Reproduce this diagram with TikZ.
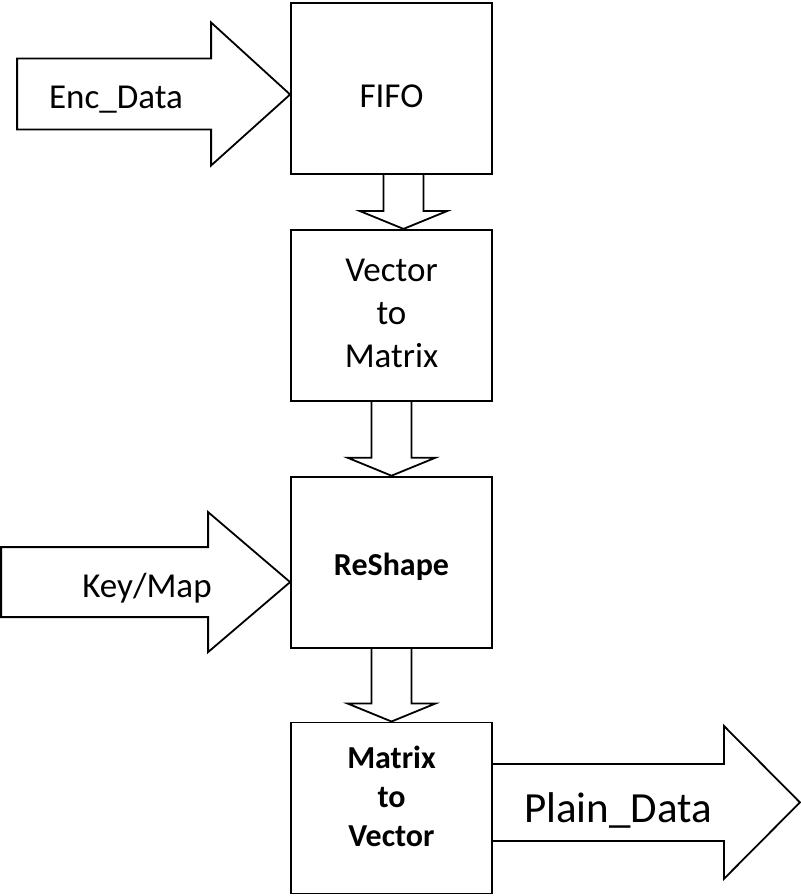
\documentclass[tikz,border=0pt]{standalone}
\usepackage{fontspec}
\setmainfont{Carlito}
\usetikzlibrary{positioning,calc}
\tikzset{blok/.style={draw,line width=1.8pt,minimum width=201pt,minimum height=171pt,align=center,inner sep=0pt,font=\fontsize{35}{43}\selectfont}, bblok/.style={blok,font=\fontsize{32}{39}\selectfont\bfseries}, fat/.style={draw,line width=1.8pt,line join=miter}, lbl/.style={inner sep=0pt,font=\fontsize{35}{42}\selectfont}}
% hollow arrow between two stacked boxes: #1 from, #2 to, #3 x offset
\newcommand\flowdown[3]{\draw[fat]($(#1.south)+(#3-20,0)$)|-($(#2.north)+(#3-44,-18)$)--($(#2.north)+(#3,0)$)--($(#2.north)+(#3+44,-18)$)-|($(#1.south)+(#3+20,0)$);}
\begin{document}
\begin{tikzpicture}[x=1pt,y=-1pt]
\useasboundingbox (0,0) rectangle (800,896);
\node[blok,text height=38pt,text depth=0pt](fifo) at (391.5,88.5){FIFO};
\node[blok,below=54pt of fifo,text height=104pt,text depth=0pt](v2m){Vector\\to\\Matrix};
\node[bblok,below=74pt of v2m,text height=27pt,text depth=0pt](reshape){ReShape};
\node[bblok,below=73pt of reshape,text height=77pt,text depth=0pt](m2v){Matrix\\to\\Vector};
\flowdown{fifo}{v2m}{12}\flowdown{v2m}{reshape}{0}\flowdown{reshape}{m2v}{0}
\draw[fat]($(fifo.west)+(0,6)$)--++(-79,-72)--++(0,36)--++(-194,0)--++(0,71)--++(194,0)--++(0,36)--cycle;
\draw[fat]($(reshape.west)+(0,20)$)--++(-82,-70)--++(0,35)--++(-207,0)--++(0,70)--++(207,0)--++(0,35)--cycle;
\draw[fat]($(m2v.east)+(0,-44)$)--++(231,0)--++(0,-38)--++(76,76.5)--++(-76,76.5)--++(0,-38)--++(-231,0);
\node[lbl](enc) at (116,100){Enc\_Data};\node[lbl](key) at (147,588){Key/Map};
\node[lbl,font=\fontsize{43}{50}\selectfont](plain) at (618,810){Plain\_Data};
\end{tikzpicture}
\end{document}
